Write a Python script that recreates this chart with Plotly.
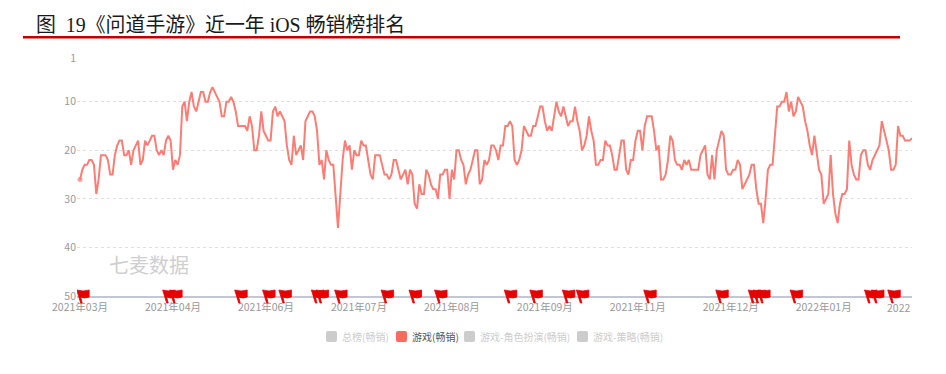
import pandas as pd
import plotly.graph_objects as go

START_DATE = "2021-03-14"
RANKS = [
    26, 24, 23, 23, 22, 22, 23, 29, 26, 21, 21, 21, 22, 25, 25, 21, 19, 18, 18, 21,
    21, 20, 23, 20, 19, 18, 23, 22, 18, 19, 18, 17, 17, 20, 21, 20, 21, 18, 17, 18,
    24, 22, 23, 21, 11, 10, 14, 10, 8, 11, 12, 10, 8, 8, 10, 10, 8, 7, 8, 9,
    10, 13, 13, 10, 10, 9, 10, 12, 15, 15, 15, 15, 16, 13, 15, 20, 20, 17, 12, 16,
    17, 18, 18, 12, 11, 13, 12, 13, 14, 19, 22, 23, 17, 21, 20, 19, 22, 14, 13, 12,
    12, 13, 16, 23, 22, 26, 20, 22, 23, 23, 29.5, 36, 29, 22, 18, 20, 19, 24, 20, 21,
    21, 18, 19, 19, 22, 25, 26, 21, 21, 21, 23, 25, 25, 26, 25, 22, 22, 24, 26, 25,
    24, 27, 24, 25, 31, 32, 27, 29, 29, 24, 25, 27, 28, 28, 30, 25, 25, 24, 24, 30,
    24, 26, 20, 20, 22, 23, 27, 25, 24, 22, 20, 20, 27, 26, 22, 23, 22, 19, 19, 20,
    22, 19, 19, 15, 15, 14, 15, 22, 23, 22, 20, 15, 16, 17, 17, 15, 15, 13, 11, 11,
    14, 16, 15, 16, 13, 10, 12, 13, 11, 13, 15, 14, 14, 11, 14, 16, 20, 19, 17, 13,
    16, 18, 23, 23, 22, 22, 18, 19, 19, 21, 24, 24, 21, 18, 18, 24, 25, 22, 22, 18,
    16, 16, 20, 15, 13, 13, 13, 16, 20, 19, 26, 26, 25, 22, 17, 18, 22, 23, 23, 24,
    22, 23, 22, 24, 24, 24, 24, 21, 20, 19, 25, 26, 21, 26, 20, 18, 16, 17, 24, 25,
    25, 24, 24, 22, 23, 28, 27, 26, 25, 23, 23, 28, 31, 31, 35, 30, 24, 23, 23, 17,
    11, 11, 10, 10, 8, 12, 10, 13, 12, 9, 10, 11, 14, 16, 19, 21, 17, 21, 24, 25,
    31, 30, 29, 21, 29, 33, 35, 31, 29, 29, 28, 18, 23, 25, 26, 26, 21, 20, 20, 23,
    24, 22, 21, 20, 19, 14, 16, 18, 20, 24, 24, 23, 15, 17, 17, 18, 18, 18, 17.5,
]
FLAG_DAYS = [0, 37, 40, 68, 80, 87, 101, 103, 111, 131, 143, 154, 184, 195, 209, 215,
             244, 275, 289, 291, 293, 307, 339, 342, 349]
TICK_DAYS = [0, 40, 80, 120, 160, 200, 240, 280, 320]
TICK_LABELS = ["2021年03月", "2021年04月", "2021年06月", "2021年07月", "2021年08月",
               "2021年09月", "2021年11月", "2021年12月", "2022年01月"]
Y_TICKS = [1, 10, 20, 30, 40, 50]
LEGEND_NAMES = ["总榜(畅销)", "游戏(畅销)", "游戏-角色扮演(畅销)", "游戏-策略(畅销)"]
TITLE = "图\u00a0\u00a019《问道手游》近一年 iOS 畅销榜排名"

days = list(range(len(RANKS)))
dates = pd.date_range(START_DATE, periods=len(RANKS)).strftime("%Y-%m-%d").tolist()

W, H = 946, 374
L, R, T, B = 77, 912, 58.4, 296
CJK = "Noto Sans CJK SC"
fx = lambda px: (px - L) / (R - L)
fy = lambda py: (B - py) / (B - T)

fig = go.Figure()
fig.add_trace(go.Scatter(
    x=days, y=RANKS, mode="lines+markers", name=LEGEND_NAMES[1],
    customdata=dates,
    line=dict(color="#fb7d75", width=2),
    marker=dict(color="#fb7d75", size=[5] + [0] * (len(RANKS) - 1), line=dict(width=0)),
    showlegend=False,
))

shapes = []
FLAG = "M -4.5 6 Q 2 4 8 6 L 8 -1 Q 3 -3 -0.5 -1 L 1 -7 L -0.5 -7 Z"
for d in FLAG_DAYS:
    shapes.append(dict(type="path", xref="x", yref="paper", xsizemode="pixel", ysizemode="pixel",
                       xanchor=d + 0.5, yanchor=0, path=FLAG, fillcolor="#e60000",
                       line=dict(width=0.8, color="#e60000"), layer="above"))
# title rule
shapes.append(dict(type="rect", xref="paper", yref="paper", x0=fx(23), x1=fx(900), y0=fy(39), y1=fy(36.5),
                   fillcolor="#c00000", line=dict(width=0)))

annotations = [
    dict(text=TITLE, xref="paper", yref="paper", x=fx(34), y=fy(25), xanchor="left", yanchor="middle",
         showarrow=False, font=dict(family=f"Liberation Serif, {CJK}", size=19.9, color="#1a1a1a")),
    dict(text="七麦数据", xref="paper", yref="paper", x=fx(107), y=fy(264.5), xanchor="left", yanchor="middle",
         showarrow=False, font=dict(family=CJK, size=20, color="#cfcfcf")),
    dict(text="2022", xref="paper", yref="paper", x=1, y=fy(307), xanchor="right", yanchor="middle",
         showarrow=False, font=dict(family=CJK, size=10.5, color="#999999")),
]

legend_sq = [326, 396, 464, 577]
legend_colors = ["#cccccc", "#fb6a60", "#cccccc", "#cccccc"]
legend_text = ["#cccccc", "#555555", "#cccccc", "#cccccc"]
ROUND = "M -5.5 -3.5 Q -5.5 -5.5 -3.5 -5.5 L 3.5 -5.5 Q 5.5 -5.5 5.5 -3.5 L 5.5 3.5 Q 5.5 5.5 3.5 5.5 L -3.5 5.5 Q -5.5 5.5 -5.5 3.5 Z"
for name, sx, c, tc in zip(LEGEND_NAMES, legend_sq, legend_colors, legend_text):
    shapes.append(dict(type="path", xref="paper", yref="paper", xsizemode="pixel", ysizemode="pixel",
                       xanchor=fx(sx + 5.5), yanchor=fy(336.5), path=ROUND, fillcolor=c, line=dict(width=0)))
    annotations.append(dict(text=name, xref="paper", yref="paper", x=fx(sx + 14), y=fy(336), xanchor="left",
                            yanchor="middle", showarrow=False, font=dict(family=CJK, size=10, color=tc)))

fig.update_layout(
    width=W, height=H, autosize=False,
    margin=dict(l=L, r=W - R, t=T, b=H - B, pad=0),
    paper_bgcolor="white", plot_bgcolor="white",
    showlegend=False, shapes=shapes, annotations=annotations,
    font=dict(family=CJK, size=10.5, color="#999999"),
    xaxis=dict(range=[-1.3, 358], tickmode="array", tickvals=TICK_DAYS, ticktext=TICK_LABELS,
               showgrid=False, zeroline=False, showline=True, linecolor="#c3c7d4", linewidth=1.5,
               ticks="", tickangle=0, ticklabelstandoff=1,
               tickfont=dict(size=10.5, color="#999999", family=CJK)),
    yaxis=dict(range=[50, 1], tickmode="array", tickvals=Y_TICKS, showgrid=True, gridcolor="#dddddd",
               griddash="dot", gridwidth=1, zeroline=False, showline=False, ticks="",
               tickfont=dict(size=10.5, color="#999999", family=CJK)),
)
fig.write_html("out.html", config=dict(displayModeBar=False),
               post_script="document.body.style.margin='0';")
